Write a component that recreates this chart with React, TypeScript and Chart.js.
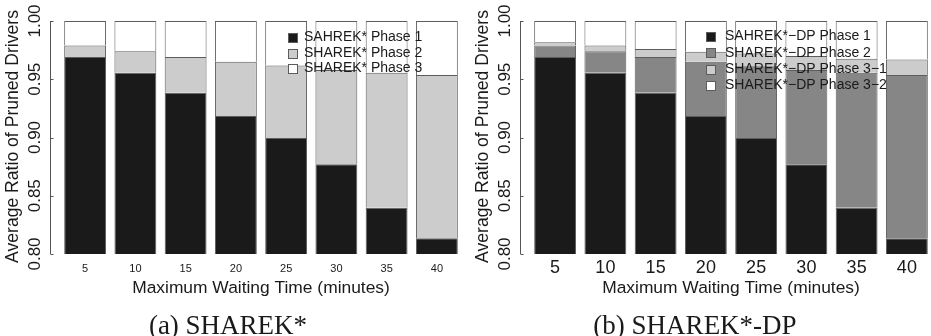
import React, { useEffect, useRef } from 'react';
import { Chart, registerables } from 'chart.js';

Chart.register(...registerables);

// ---------- data ----------
const categories = ['5', '10', '15', '20', '25', '30', '35', '40'];
const yTickValues = [0.8, 0.85, 0.9, 0.95, 1.0];
const yTickLabels = ['0.80', '0.85', '0.90', '0.95', '1.00'];

// (a) SHAREK* — stacked segment heights
const sharekPhase1 = [0.969, 0.9556, 0.9385, 0.9185, 0.8996, 0.877, 0.8396, 0.8135];
const sharekPhase2 = [0.01, 0.0184, 0.0305, 0.0465, 0.0621, 0.081, 0.116, 0.1402];
const sharekPhase3 = [0.021, 0.026, 0.031, 0.035, 0.0383, 0.042, 0.0444, 0.0463];

// (b) SHAREK*-DP — stacked segment heights
const dpPhase1 = [0.969, 0.9556, 0.9385, 0.9185, 0.8996, 0.877, 0.8396, 0.8135];
const dpPhase2 = [0.01, 0.0184, 0.0305, 0.0465, 0.0621, 0.081, 0.116, 0.1402];
const dpPhase31 = [0.0027, 0.005, 0.007, 0.0087, 0.0103, 0.012, 0.0121, 0.0133];
const dpPhase32 = [0.0183, 0.021, 0.024, 0.0263, 0.028, 0.03, 0.0323, 0.033];

const sharekLabels = ['SAHREK* Phase 1', 'SHAREK* Phase 2', 'SHAREK* Phase 3'];
const dpLabels = ['SAHREK*\u2212DP Phase 1', 'SHAREK*\u2212DP Phase 2', 'SHAREK*\u2212DP Phase 3\u22121', 'SHAREK*\u2212DP Phase 3\u22122'];

const xTitle = 'Maximum Waiting Time (minutes)';
const yTitle = 'Average Ratio of Pruned Drivers';

const DARK = '#1a1a1a';
const MID = '#868686';
const LIGHT = '#cccccc';
const WHITE = '#ffffff';
const BORDER = '#5c5c5c';
const TEXT = '#1a1a1a';
const SANS = '"Liberation Sans", Arial, Helvetica, sans-serif';
const SERIF = '"Liberation Serif", "Times New Roman", serif';

type PanelSpec = {
  key: string;
  left: number;
  width: number;
  padLeft: number;
  padRight: number;
  series: { label: string; data: number[]; color: string }[];
  xTickFont: number;
  xTickY: number;
  yTickFont: number;
  legendSquareX: number;
  legendTextX: number;
  legendY0: number;
  legendDy: number;
  caption: string;
  captionX: number;
};

const panels: PanelSpec[] = [
  {
    key: 'a',
    left: 0,
    width: 465,
    padLeft: 60,
    padRight: 3,
    series: [
      { label: sharekLabels[0], data: sharekPhase1, color: DARK },
      { label: sharekLabels[1], data: sharekPhase2, color: LIGHT },
      { label: sharekLabels[2], data: sharekPhase3, color: WHITE },
    ],
    xTickFont: 11,
    xTickY: 269,
    yTickFont: 17,
    legendSquareX: 292,
    legendTextX: 304,
    legendY0: 37.5,
    legendDy: 15.5,
    caption: '(a) SHAREK*',
    captionX: 228,
  },
  {
    key: 'b',
    left: 465,
    width: 470,
    padLeft: 65,
    padRight: 3,
    series: [
      { label: dpLabels[0], data: dpPhase1, color: DARK },
      { label: dpLabels[1], data: dpPhase2, color: MID },
      { label: dpLabels[2], data: dpPhase31, color: LIGHT },
      { label: dpLabels[3], data: dpPhase32, color: WHITE },
    ],
    xTickFont: 18,
    xTickY: 268,
    yTickFont: 17,
    legendSquareX: 245,
    legendTextX: 260,
    legendY0: 36.5,
    legendDy: 16.3,
    caption: '(b) SHAREK*-DP',
    captionX: 230,
  },
];

function makePlugin(spec: PanelSpec) {
  return {
    id: 'decor' + spec.key,
    afterDraw(chart: any) {
      const ctx: CanvasRenderingContext2D = chart.ctx;
      const area = chart.chartArea;
      const ys = chart.scales.y;
      const xs = chart.scales.x;
      ctx.save();
      // y axis
      const ax = Math.round(area.left - 10) + 0.5;
      ctx.strokeStyle = '#555555';
      ctx.lineWidth = 1;
      ctx.beginPath();
      ctx.moveTo(ax, ys.getPixelForValue(yTickValues[0]));
      ctx.lineTo(ax, ys.getPixelForValue(yTickValues[yTickValues.length - 1]));
      ctx.stroke();
      ctx.fillStyle = TEXT;
      ctx.font = `${spec.yTickFont}px ${SANS}`;
      ctx.textAlign = 'center';
      ctx.textBaseline = 'middle';
      yTickValues.forEach((v, i) => {
        const py = Math.round(ys.getPixelForValue(v)) + 0.5;
        ctx.beginPath();
        ctx.moveTo(ax, py);
        ctx.lineTo(ax + 3, py);
        ctx.stroke();
        ctx.save();
        ctx.translate(ax - 15, ys.getPixelForValue(v));
        ctx.rotate(-Math.PI / 2);
        ctx.fillText(yTickLabels[i], 0, 0);
        ctx.restore();
      });
      // y title
      ctx.font = `17.6px ${SANS}`;
      ctx.save();
      ctx.translate(ax - 37, (area.top + area.bottom) / 2 - 1);
      ctx.rotate(-Math.PI / 2);
      ctx.fillText(yTitle, 0, 0);
      ctx.restore();
      // x ticks
      ctx.font = `${spec.xTickFont}px ${SANS}`;
      categories.forEach((c, i) => {
        ctx.fillText(c, xs.getPixelForValue(i), spec.xTickY);
      });
      // x title
      ctx.font = `17.4px ${SANS}`;
      ctx.fillText(xTitle, (area.left + area.right) / 2, 288);
      // legend
      ctx.font = `14px ${SANS}`;
      ctx.textAlign = 'left';
      spec.series.forEach((s, i) => {
        const cy = spec.legendY0 + i * spec.legendDy;
        const sz = 9;
        const sx = Math.round(spec.legendSquareX - sz / 2) + 0.5;
        const sy = Math.round(cy - sz / 2) + 0.5;
        ctx.fillStyle = s.color;
        ctx.fillRect(sx, sy, sz, sz);
        ctx.strokeStyle = BORDER;
        ctx.strokeRect(sx, sy, sz, sz);
        ctx.fillStyle = TEXT;
        ctx.fillText(s.label, spec.legendTextX, cy);
      });
      // caption
      ctx.font = `27px ${SERIF}`;
      ctx.textAlign = 'center';
      ctx.textBaseline = 'alphabetic';
      ctx.fillText(spec.caption, spec.captionX, 334);
      ctx.restore();
    },
  };
}

function Panel({ spec }: { spec: PanelSpec }) {
  const ref = useRef<HTMLCanvasElement>(null);
  useEffect(() => {
    if (!ref.current) return;
    const chart = new Chart(ref.current, {
      type: 'bar',
      data: {
        labels: categories,
        datasets: spec.series.map((s) => ({
          label: s.label,
          data: s.data,
          backgroundColor: s.color,
          borderColor: BORDER,
          borderWidth: { top: 1, left: 1, right: 1, bottom: 0 },
          borderSkipped: false,
          categoryPercentage: 1,
          barPercentage: 1 / 1.2,
        })),
      },
      options: {
        responsive: false,
        animation: false,
        devicePixelRatio: 1,
        layout: { padding: { left: spec.padLeft, right: spec.padRight, top: 21, bottom: 82 } },
        plugins: { legend: { display: false }, tooltip: { enabled: false }, title: { display: false } },
        scales: {
          x: { type: 'category', stacked: true, display: false },
          y: { type: 'linear', stacked: true, min: 0.8, max: 1.0, display: false },
        },
      },
      plugins: [makePlugin(spec)],
    } as any);
    return () => chart.destroy();
  }, [spec]);
  return (
    <canvas
      ref={ref}
      width={spec.width}
      height={336}
      style={{ position: 'absolute', left: spec.left, top: 0, width: spec.width, height: 336 }}
    />
  );
}

export default function App() {
  return (
    <div
      style={{
        position: 'fixed',
        left: 0,
        top: 0,
        width: 931,
        height: 336,
        overflow: 'hidden',
        background: '#ffffff',
      }}
    >
      {panels.map((p) => (
        <Panel key={p.key} spec={p} />
      ))}
    </div>
  );
}
